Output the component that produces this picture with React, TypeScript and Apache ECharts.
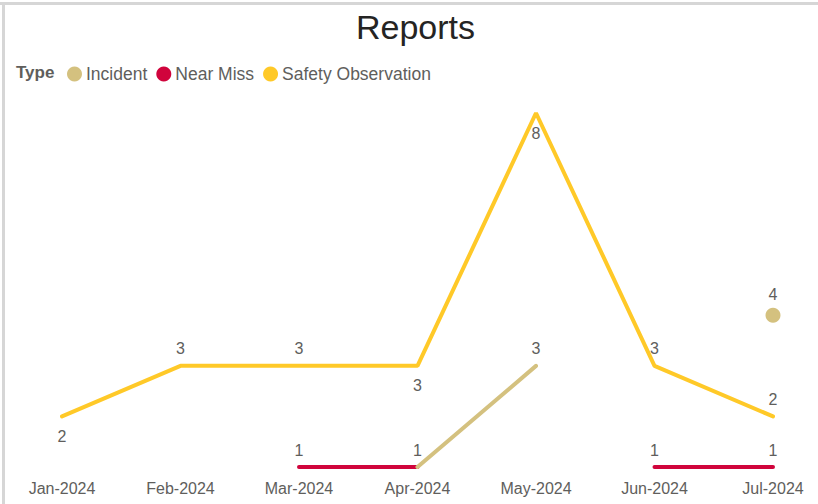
import React, { useEffect, useRef } from "react";
import * as echarts from "echarts";

const months = ["Jan-2024", "Feb-2024", "Mar-2024", "Apr-2024", "May-2024", "Jun-2024", "Jul-2024"];
const incident: (number | null)[] = [null, null, null, 1, 3, null, 4];
const nearMiss: (number | null)[] = [null, null, 1, 1, null, 1, 1];
const safetyObs: (number | null)[] = [2, 3, 3, 3, 8, 3, 2];
// label placement per point: "top" | "bottom" | "none"
const incidentLabelPos = ["none", "none", "none", "none", "top", "none", "top"];
const nearMissLabelPos = ["none", "none", "top", "top", "none", "top", "top"];
const safetyLabelPos = ["bottom", "top", "top", "bottom", "bottom", "top", "top"];

const COLORS = { incident: "#D4C17F", nearMiss: "#D0043C", safety: "#FFC928" };
const LABEL_COLOR = "#605E5C";
const FONT = "'Liberation Sans', Arial, sans-serif";

function isolated(arr: (number | null)[], i: number) {
  const prev = i > 0 ? arr[i - 1] : null;
  const next = i < arr.length - 1 ? arr[i + 1] : null;
  return arr[i] != null && prev == null && next == null;
}

function buildData(arr: (number | null)[], pos: string[]) {
  return arr.map((v, i) => {
    const iso = isolated(arr, i);
    return {
      value: v,
      symbolSize: iso ? 15 : 0,
      label:
        pos[i] === "none" || v == null
          ? { show: false }
          : { show: true, position: pos[i], distance: iso ? 5 : pos[i] === "bottom" ? 12 : 9 },
    };
  });
}

function makeSeries(name: string, arr: (number | null)[], pos: string[], color: string, z: number) {
  return {
    name,
    type: "line",
    data: buildData(arr, pos),
    symbol: "circle",
    showSymbol: true,
    connectNulls: false,
    z,
    lineStyle: { color, width: 4, cap: "round" },
    itemStyle: { color },
    label: {
      show: true,
      color: LABEL_COLOR,
      fontSize: 16,
      fontFamily: FONT,
    },
    emphasis: { disabled: true },
  };
}

export default function App() {
  const ref = useRef<HTMLDivElement>(null);
  useEffect(() => {
    if (!ref.current) return;
    const chart = echarts.init(ref.current, undefined, { renderer: "svg" });
    chart.setOption({
      animation: false,
      backgroundColor: "#ffffff",
      title: {
        text: "Reports",
        left: 356,
        top: 10,
        padding: 0,
        textStyle: {
          fontSize: 34,
          fontWeight: "normal",
          color: "#252423",
          fontFamily: FONT,
        },
      },
      legend: {
        left: 67,
        top: 65,
        padding: 0,
        icon: "circle",
        itemWidth: 15,
        itemHeight: 15,
        itemGap: 9,
        selectedMode: false,
        textStyle: {
          fontSize: 17.5,
          color: LABEL_COLOR,
          fontFamily: FONT,
          padding: [0, 0, 0, -1],
        },
        data: ["Incident", "Near Miss", "Safety Observation"],
      },
      graphic: [
        {
          type: "text",
          left: 16,
          top: 64,
          style: {
            text: "Type",
            fontSize: 17,
            fontWeight: "bold",
            fill: LABEL_COLOR,
            fontFamily: FONT,
          },
        },
        { type: "line", shape: { x1: 0, y1: 3.5, x2: 818, y2: 3.5 }, style: { stroke: "#D6D6D6", lineWidth: 3 } },
        { type: "line", shape: { x1: 3.5, y1: 3, x2: 3.5, y2: 504 }, style: { stroke: "#D6D6D6", lineWidth: 3 } },
      ],
      grid: { left: 62, right: 45, top: 113, bottom: 37, containLabel: false },
      xAxis: {
        type: "category",
        data: months,
        boundaryGap: false,
        axisLine: { show: false },
        axisTick: { show: false },
        splitLine: { show: false },
        axisLabel: {
          color: LABEL_COLOR,
          fontSize: 16,
          margin: 13,
          interval: 0,
          fontFamily: FONT,
        },
      },
      yAxis: {
        type: "value",
        min: 1,
        max: 8,
        show: false,
        splitLine: { show: false },
      },
      series: [
        makeSeries("Incident", incident, incidentLabelPos, COLORS.incident, 2),
        makeSeries("Near Miss", nearMiss, nearMissLabelPos, COLORS.nearMiss, 1),
        makeSeries("Safety Observation", safetyObs, safetyLabelPos, COLORS.safety, 3),
      ],
    });
    return () => chart.dispose();
  }, []);
  return <div ref={ref} style={{ position: "fixed", left: 0, top: 0, width: 818, height: 504 }} />;
}
